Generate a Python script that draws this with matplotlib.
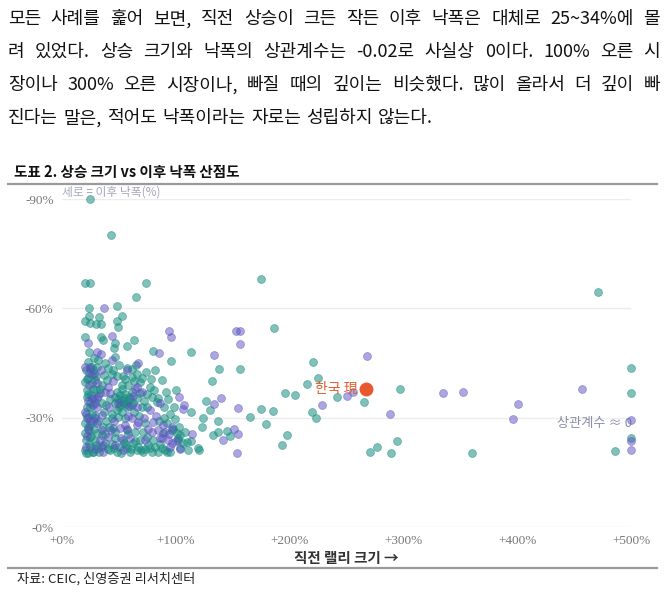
import matplotlib
matplotlib.use('Agg')
import matplotlib.pyplot as plt
from matplotlib.ticker import FuncFormatter

plt.rcParams['font.family'] = ['Noto Sans CJK KR', 'DejaVu Sans']

# 본문 문단 (줄 단위)
para_lines = [
    '모든 사례를 훑어 보면, 직전 상승이 크든 작든 이후 낙폭은 대체로 25~34%에 몰',
    '려 있었다. 상승 크기와 낙폭의 상관계수는 -0.02로 사실상 0이다. 100% 오른 시',
    '장이나 300% 오른 시장이나, 빠질 때의 깊이는 비슷했다. 많이 올라서 더 깊이 빠',
    '진다는 말은, 적어도 낙폭이라는 자로는 성립하지 않는다.',
]
title = '도표 2. 상승 크기 vs 이후 낙폭 산점도'
source = '자료: CEIC, 신영증권 리서치센터'

# 직전 랠리 크기(%) / 이후 낙폭(%) - 그림에서 읽은 값
teal_x = [24.6, 43, 20, 25, 73.5, 175, 65, 24, 48, 24, 53, 20, 24.6, 29.6, 34, 32.5, 48, 49.5, 186.6,
          20, 34, 36, 46.6, 46, 57, 63.5, 23.7, 46.6, 80, 96, 113.6, 22.6, 32, 50, 57, 61.5, 73.8,
          221, 156, 138, 24.6, 471, 500,
          297, 241.6, 265, 500, 500, 486, 294.6, 277, 271, 289, 360.6, 224.6, 215.6, 196, 205, 220,
          223, 185.7, 174.6, 165, 179, 198, 193, 145, 148, 137.4, 132.4, 136.8, 124, 123, 130,
          126.5, 132, 113, 119.8, 120, 111, 106, 104, 113, 100, 87.6, 92.5, 97.8, 89, 102, 92,
          20.2, 26, 28.9, 34.9, 39.3, 43.7, 53.9, 61.2, 68.5, 52.4, 58.3, 77.3, 48, 51, 61.2, 68.5,
          78.8, 21.7, 25.8, 33.4, 83.2, 46.6, 51, 53.9, 56.9, 61.2, 70, 74.4, 48, 52.4, 24.6, 29,
          23.1, 29, 43.7, 49.5, 55.4, 73, 20.2, 24.6, 36.3, 45, 56.9, 64.1, 96.4, 100.8, 108,
          20.2, 24.6, 30.5, 34.9, 46.6, 53.9, 68.5, 74.4, 80.2, 102.2, 109.6,
          20.2, 23.1, 27.5, 31.9, 42.2, 48, 59.8, 65.6, 71.4, 77.3, 84.6, 90.5, 94.9, 103.7,
          21, 23, 27, 22, 26, 28, 21, 25, 27, 30, 24, 29, 32, 22, 26, 30, 33, 35, 37, 38, 40, 44,
          50, 56, 62, 67, 58, 47, 39, 42, 44, 55, 60, 53, 57, 63, 68, 71, 76, 82, 88, 85, 90, 95,
          99, 103, 70, 78, 82, 65, 45, 38, 28, 84, 91,
          21.5, 23.5, 25.5, 22.5, 27, 21, 25, 23, 28, 30, 26.5, 22, 31, 27.5, 32.5, 35, 37.5, 41,
          39, 45.5, 51.5, 54.5, 57.5, 61, 64, 69, 73, 79, 86, 49.5, 52, 54.5, 56, 58.5, 50, 47,
          62.5, 66, 72, 75, 63, 66, 55, 48.5, 40, 36.5, 81, 90, 93, 98]
teal_y = [90, 80, 67, 67, 67, 68, 63, 60, 60.6, 58, 58, 56.6, 56, 55.7, 55.7, 57.5, 56.5, 54.9, 54.5,
          52, 52, 51.3, 50.4, 49, 49.7, 51.2, 48, 46.7, 48.3, 45.6, 47.9, 45.4, 45.8, 44.4, 43.7,
          43.3, 42.6, 45.4, 43.4, 43.3, 43.3, 64.4, 43.7,
          37.9, 35.8, 34.4, 36.7, 24.5, 20.9, 23.7, 21.9, 20.5, 20.4, 20.4, 41, 39.2, 36.9, 36.2,
          31.5, 30, 31.8, 32.3, 30.3, 28.2, 25.2, 22.5, 26.3, 25, 26.2, 25.2, 29.2, 29.8, 27.4,
          32.1, 34.7, 40.1, 23.6, 21.8, 21, 21.1, 23, 25.2, 31.6, 37.6, 40.3, 28.6, 26.8, 25.9,
          23.9, 20.7,
          39.9, 41.7, 40.4, 39, 40.3, 42, 41.4, 41.2, 39.9, 39, 39, 38.5, 37.1, 36.2, 37.1, 36.7,
          35.8, 35.8, 36.2, 36.7, 34.4, 33.9, 33.5, 33.9, 33, 33.5, 33, 33, 32.1, 31.6, 33, 33.9,
          30.3, 30.7, 29.8, 30.3, 29.8, 28.5, 28.5, 28, 27.5, 27.1, 26.6, 26.2, 26.6, 25.7, 26.2,
          25.7, 24.8, 25.7, 25.2, 24.3, 23.9, 23.9, 24.8, 23.9, 24.3, 23.4,
          21.1, 20.2, 20.7, 21.6, 21.1, 20.7, 20.7, 21.1, 20.7, 21.6, 20.7, 21.1, 20.7, 21.6,
          43, 41, 38, 33, 31, 27, 24, 22, 20.5, 22.5, 26.5, 23.5, 29, 37.5, 44, 41.5, 38, 34, 31.5,
          23, 21.5, 22.8, 22, 22.5, 23, 22, 25.5, 26, 33.5, 35, 31, 36.5, 35, 38, 34.5, 31.5, 30.5,
          26, 22.6, 22, 21.8, 29, 33, 31, 29.5, 27.5, 41, 40.5, 43, 44.5, 43, 45, 46.5, 35.5, 37,
          20.3, 22.8, 25, 27.5, 29, 31, 34, 36.5, 35, 37.5, 39.5, 40.5, 44, 43, 20.5, 22, 25.5, 27.5,
          29, 21.7, 20.4, 23, 21.8, 21.5, 23.5, 21, 21.5, 20.6, 22.8, 35, 34.8, 35.5, 33.8, 35.8,
          32.8, 35.6, 34, 35.4, 34.5, 36.5, 40, 42, 40.5, 41.5, 43.5, 41.8, 37.5, 30, 35, 33]

purple_x = [36.6, 94, 96, 153, 156, 156, 23, 44, 30.5, 34, 44, 85, 134, 66.5, 57, 24, 268, 250, 256,
            288, 335, 352, 457, 401, 396, 500, 500, 500, 228.5, 154.7, 154, 155, 151.4, 141.7, 114,
            106, 107.5, 133.8, 139.7, 102.5, 80, 75.8, 94.3, 97,
            65.6, 40.7, 42.2, 30.5, 20.2, 34.9, 61.2, 67, 30.5, 51, 84.6, 90.5, 40.7, 59.8, 86.1,
            93.4, 65.6, 36.3, 53.9,
            21, 23, 26, 28, 31, 33, 36, 24, 29, 22, 43, 52, 49, 62, 66, 73, 79, 88, 95, 100, 104,
            45, 38, 58, 70, 86, 20.5, 34, 24.6,
            22, 25, 27, 31, 35, 29, 41, 46, 55, 59, 64, 72, 77, 83, 89, 97, 47, 57, 32, 23]
purple_y = [60, 53.8, 52, 53.8, 53.8, 50.3, 50.6, 52.5, 48, 47.4, 45.8, 47.8, 47.2, 45, 43, 42.3, 47,
            35.9, 37.1, 31.1, 36.9, 37, 37.8, 33.8, 29.6, 29.4, 23.7, 21, 33.5, 32.6, 20.4, 25.5,
            27, 24, 25.5, 32.3, 33.5, 33.7, 35.5, 35.8, 28.9, 26.8, 25.5, 23,
            38.5, 38.5, 36.7, 35.3, 31.6, 30.7, 29.8, 28.9, 28.5, 27.1, 26.6, 26.2, 24.8, 24.3,
            24.3, 23.9, 33, 20.7, 21.1,
            22, 27, 35.5, 42, 33, 24, 22.5, 39, 30, 30, 26.5, 24.5, 34, 36, 28, 24, 26, 24.5, 22,
            23.5, 21.5, 40, 37, 30.5, 37, 34, 44, 43, 43.8,
            25, 29, 33.5, 39.5, 26.5, 21.5, 33, 29, 28, 33.2, 38, 30, 32, 30.5, 28, 27.5, 22.5, 27,
            36, 34.5]

korea_x, korea_y = 267, 37.9
x_ticks = [0, 100, 200, 300, 400, 500]
y_ticks = [0, 30, 60, 90]

W, H = 668, 592
fig = plt.figure(figsize=(W / 100, H / 100), dpi=100)
renderer = fig.canvas.get_renderer()


def put_line(text, y_px, justify=True, left=8, right=660, size=13):
    words = text.split(' ')
    items = [fig.text(0, 1 - y_px / H, w, fontsize=size, va='center', ha='left', color='#111111')
             for w in words]
    widths = [t.get_window_extent(renderer).width for t in items]
    if justify and len(items) > 1:
        gap = (right - left - sum(widths)) / (len(items) - 1)
    else:
        gap = size * 0.42
    x = left
    for t, w in zip(items, widths):
        t.set_x(x / W)
        x += w + gap


for i, line in enumerate(para_lines):
    put_line(line, 19 + i * 33, justify=(i < len(para_lines) - 1))

fig.text(14 / W, 1 - 172 / H, title, fontsize=10.5, fontweight='bold', va='center', ha='left',
         color='#111111')
fig.add_artist(plt.Line2D([8 / W, 657 / W], [1 - 184 / H] * 2, color='#9a9a9a', lw=1.6))
fig.add_artist(plt.Line2D([8 / W, 657 / W], [1 - 568 / H] * 2, color='#9a9a9a', lw=1.6))
fig.text(17 / W, 1 - 579 / H, source, fontsize=9.5, va='center', ha='left', color='#222222')

ax = fig.add_axes([62 / W, 1 - 527 / H, (631 - 62) / W, (527 - 199) / H])
ax.scatter(teal_x, teal_y, s=32, color='#1a8f82', alpha=0.55, edgecolors='#1a8f82',
           linewidths=0.6, clip_on=False, zorder=3)
ax.scatter(purple_x, purple_y, s=32, color='#5a52c0', alpha=0.5, edgecolors='#5a52c0',
           linewidths=0.6, clip_on=False, zorder=3)
ax.scatter([korea_x], [korea_y], s=80, color='#e8572e', clip_on=False, zorder=5)
ax.annotate('한국 現', xy=(korea_x, korea_y), xytext=(-6, 0), textcoords='offset points',
            ha='right', va='center', color='#e35a2f', fontsize=10, zorder=6)
ax.text(501, 28.5, '상관계수 ≈ 0', ha='right', va='center', color='#8a90a8', fontsize=9.5, zorder=2)
ax.text(0, 91.8, '세로 = 이후 낙폭(%)', ha='left', va='center', color='#a3a7ba', fontsize=8.5)

ax.set_xlim(0, 500)
ax.set_ylim(0, 90)
ax.set_xticks(x_ticks)
ax.set_yticks(y_ticks)
ax.xaxis.set_major_formatter(FuncFormatter(lambda v, p: f'+{v:.0f}%'))
ax.yaxis.set_major_formatter(FuncFormatter(lambda v, p: f'-{v:.0f}%'))
ax.tick_params(length=0, labelsize=9.5, labelcolor='#777777', pad=6)
for lab in ax.get_xticklabels() + ax.get_yticklabels():
    lab.set_family('Liberation Serif')
ax.grid(axis='y', color='#ececec', lw=1)
ax.set_axisbelow(True)
for sp in ax.spines.values():
    sp.set_visible(False)
ax.set_xlabel('직전 랠리 크기 →', fontsize=10.5, fontweight='bold', color='#333333', labelpad=2)

fig.savefig('out.png', dpi=100)
